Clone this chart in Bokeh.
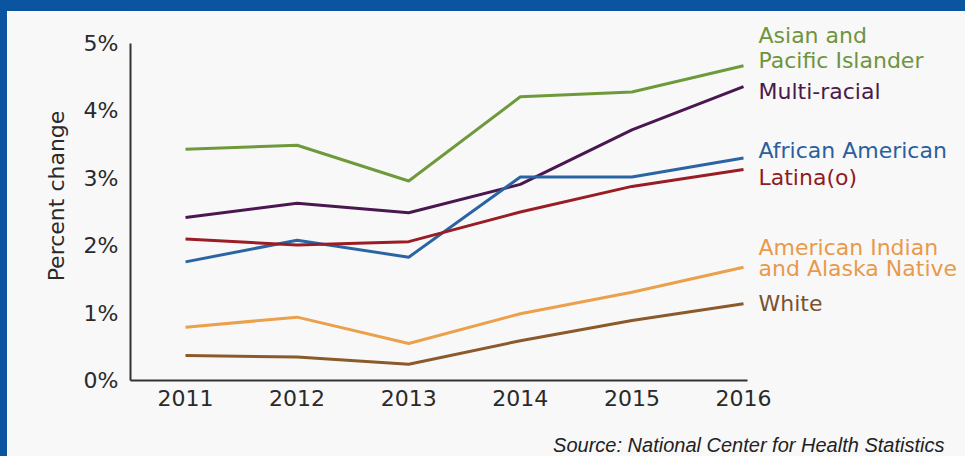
from bokeh.plotting import figure
from bokeh.models import FixedTicker, Label, LinearAxis
from bokeh.embed import file_html
from bokeh.resources import INLINE

# ---- data ----
years = [2011, 2012, 2013, 2014, 2015, 2016]
asian_pi = [3.43, 3.49, 2.96, 4.21, 4.28, 4.67]
multi_racial = [2.42, 2.63, 2.49, 2.91, 3.72, 4.36]
african_american = [1.76, 2.08, 1.83, 3.02, 3.02, 3.30]
latina = [2.10, 2.01, 2.06, 2.50, 2.88, 3.13]
am_indian = [0.79, 0.94, 0.55, 0.99, 1.31, 1.68]
white = [0.37, 0.35, 0.24, 0.59, 0.89, 1.14]

y_ticks = [0, 1, 2, 3, 4, 5]
y_tick_labels = ["0%", "1%", "2%", "3%", "4%", "5%"]
x_tick_labels = ["2011", "2012", "2013", "2014", "2015", "2016"]

series = [
    (asian_pi, "#6e9a3c"),
    (multi_racial, "#4b1750"),
    (african_american, "#2b64a3"),
    (latina, "#9a1d26"),
    (am_indian, "#eba04b"),
    (white, "#8b5a2b"),
]

# end labels: text, colour, vertical placement (in % units)
end_labels = ["Asian and", "Pacific Islander", "Multi-racial", "African American",
              "Latina(o)", "American Indian", "and Alaska Native", "White"]
end_label_colors = ["#6e9440", "#6e9440", "#4a1a4a", "#2a5f9e",
                    "#8f1c23", "#e89a4a", "#e89a4a", "#7a5230"]
end_label_pos = [5.12, 4.75, 4.29, 3.41, 3.01, 1.97, 1.66, 1.14]

source_text = "Source: National Center for Health Statistics"

BG = "#f8f8f8"
BLUE = "#0a54a0"

p = figure(
    width=965, height=456,
    x_range=(2010.507, 2018.052), y_range=(0, 5.475),
    output_backend="svg", toolbar_location=None,
    min_border_left=123, min_border_right=0,
    min_border_top=0, min_border_bottom=87,
    background_fill_color=BG, border_fill_color=BG,
    outline_line_color=None,
    styles={"border-top": f"11px solid {BLUE}",
            "border-left": f"7px solid {BLUE}"},
)
p.grid.visible = False

for vals, col in series:
    p.line(years, vals, line_color=col, line_width=3)

# axes
p.xaxis.ticker = FixedTicker(ticks=years)
p.xaxis.major_label_overrides = {y: t for y, t in zip(years, x_tick_labels)}
p.xaxis.bounds = (2010.507, 2016.036)
p.yaxis.ticker = FixedTicker(ticks=y_ticks)
p.yaxis.major_label_overrides = {y: t for y, t in zip(y_ticks, y_tick_labels)}
p.yaxis.bounds = (0, 5)

for ax in (p.xaxis[0], p.yaxis[0]):
    ax.axis_line_color = "#333333"
    ax.axis_line_width = 2
    ax.major_tick_line_color = None
    ax.minor_tick_line_color = None
    ax.major_tick_out = 0
    ax.major_tick_in = 0
    ax.major_label_text_font = "DejaVu Sans"
    ax.major_label_text_font_size = "22px"
    ax.major_label_text_color = "#2a2a2a"

p.xaxis.major_label_standoff = 9
p.yaxis.major_label_standoff = 12
p.yaxis.axis_label = "Percent change"
p.yaxis.axis_label_text_font = "DejaVu Sans"
p.yaxis.axis_label_text_font_size = "22px"
p.yaxis.axis_label_text_font_style = "normal"
p.yaxis.axis_label_text_color = "#2a2a2a"
p.yaxis.axis_label_standoff = 12

for txt, col, yv in zip(end_labels, end_label_colors, end_label_pos):
    p.add_layout(Label(x=years[-1], y=yv, x_offset=15, text=txt,
                       text_color=col, text_font="DejaVu Sans",
                       text_font_size="22px", text_baseline="middle",
                       text_align="left"))

# source note: carried by a line-less, tick-less axis below the year axis
# (leading no-break spaces push the centred note toward the right edge)
src_axis = LinearAxis(
    ticker=FixedTicker(ticks=[]),
    axis_line_color=None, major_tick_line_color=None,
    minor_tick_line_color=None, major_tick_out=0, major_tick_in=0,
    major_label_standoff=0, major_label_text_font_size="0px",
    axis_label="\u00a0" * 71 + source_text,
    axis_label_standoff=25,
    axis_label_text_font="Liberation Sans",
    axis_label_text_font_style="italic",
    axis_label_text_font_size="20px",
    axis_label_text_color="#222222",
)
p.add_layout(src_axis, "below")

open("out.html", "w").write(file_html(p, INLINE))
